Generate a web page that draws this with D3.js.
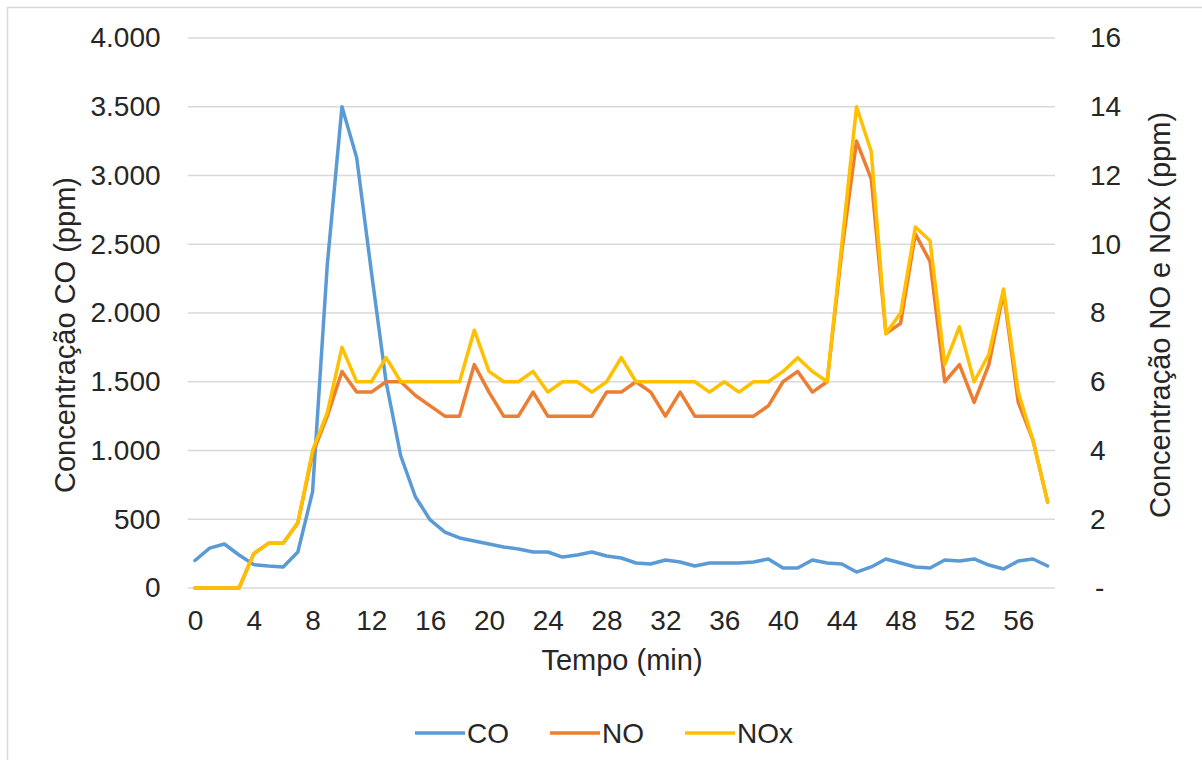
<!DOCTYPE html>
<html>
<head>
<meta charset="utf-8">
<script src="https://cdn.jsdelivr.net/npm/d3@7"></script>
<style>
  html, body { margin: 0; padding: 0; background: #fff; }
  svg { display: block; font-family: "Liberation Sans", Arial, sans-serif; }
</style>
</head>
<body>
<svg id="chart" width="1202" height="760"></svg>
<script>
// Time in minutes (one sample per minute)
const minutes = d3.range(0, 59);

// CO concentration (ppm), left axis
const coValues = [200, 290, 320, 240, 170, 160, 153, 262, 700, 2350,
  3500, 3130, 2300, 1500, 960, 662, 495, 407, 364, 342,
  320, 298, 284, 262, 262, 225, 240, 262, 233, 218,
  182, 175, 204, 189, 160, 182, 182, 182, 189, 211,
  145, 145, 204, 182, 175, 116, 153, 211, 182, 153,
  145, 204, 196, 211, 167, 138, 196, 211, 160];

// NO concentration (ppm), right axis
const noValues = [0, 0, 0, 0, 1.0, 1.3, 1.3, 1.9, 3.9, 5.0,
  6.3, 5.7, 5.7, 6.0, 6.0, 5.6, 5.3, 5.0, 5.0, 6.5,
  5.7, 5.0, 5.0, 5.7, 5.0, 5.0, 5.0, 5.0, 5.7, 5.7,
  6.0, 5.7, 5.0, 5.7, 5.0, 5.0, 5.0, 5.0, 5.0, 5.3,
  6.0, 6.3, 5.7, 6.0, 9.8, 13.0, 11.9, 7.4, 7.7, 10.3,
  9.5, 6.0, 6.5, 5.4, 6.5, 8.6, 5.4, 4.3, 2.5];

// NOx concentration (ppm), right axis
const noxValues = [0, 0, 0, 0, 1.0, 1.3, 1.3, 1.9, 4.0, 5.1,
  7.0, 6.0, 6.0, 6.7, 6.0, 6.0, 6.0, 6.0, 6.0, 7.5,
  6.3, 6.0, 6.0, 6.3, 5.7, 6.0, 6.0, 5.7, 6.0, 6.7,
  6.0, 6.0, 6.0, 6.0, 6.0, 5.7, 6.0, 5.7, 6.0, 6.0,
  6.3, 6.7, 6.3, 6.0, 10.0, 14.0, 12.7, 7.4, 8.0, 10.5,
  10.1, 6.5, 7.6, 6.0, 6.8, 8.7, 5.7, 4.3, 2.5];

const leftTicks = [0, 500, 1000, 1500, 2000, 2500, 3000, 3500, 4000];
const rightTicks = [0, 2, 4, 6, 8, 10, 12, 14, 16];
const xTickLabels = minutes.filter(m => m % 4 === 0);

const seriesNames = ["CO", "NO", "NOx"];
const seriesColors = ["#5b9bd5", "#ed7d31", "#ffc000"];

const svg = d3.select("#chart");
const plot = { left: 187.6, right: 1055, top: 38, bottom: 588 };

// Outer chart frame
svg.append("rect")
  .attr("x", 7.5).attr("y", 7.5)
  .attr("width", 1210).attr("height", 770)
  .attr("fill", "#fff").attr("stroke", "#d9d9d9").attr("stroke-width", 1.5);

const x = d3.scalePoint().domain(minutes).range([plot.left, plot.right]).padding(0.5);
const yLeft = d3.scaleLinear().domain([0, 4000]).range([plot.bottom, plot.top]);
const yRight = d3.scaleLinear().domain([0, 16]).range([plot.bottom, plot.top]);

const fmtThousands = d3.formatLocale({ decimal: ",", thousands: ".", grouping: [3], currency: ["", ""] }).format(",");

// Horizontal gridlines
svg.append("g")
  .selectAll("line")
  .data(leftTicks)
  .join("line")
  .attr("x1", plot.left).attr("x2", plot.right)
  .attr("y1", d => yLeft(d)).attr("y2", d => yLeft(d))
  .attr("stroke", "#d9d9d9").attr("stroke-width", 1.5);

const textColor = "#262626";
const tickFont = 28;

// Left axis
const leftAxis = svg.append("g")
  .attr("transform", `translate(${plot.left},0)`)
  .call(d3.axisLeft(yLeft).tickValues(leftTicks).tickSize(0).tickPadding(27).tickFormat(fmtThousands));
leftAxis.select(".domain").remove();
leftAxis.selectAll("text").attr("font-size", tickFont).attr("fill", textColor)
  .attr("font-family", "'Liberation Sans', Arial, sans-serif");

// Right axis
const rightAxis = svg.append("g")
  .attr("transform", `translate(${plot.right},0)`)
  .call(d3.axisRight(yRight).tickValues(rightTicks).tickSize(0).tickPadding(35)
    .tickFormat(d => d === 0 ? "-" : String(d)));
rightAxis.select(".domain").remove();
rightAxis.selectAll("text").attr("font-size", tickFont).attr("fill", textColor)
  .attr("font-family", "'Liberation Sans', Arial, sans-serif");
rightAxis.selectAll(".tick").filter(d => d === 0).select("text").attr("dx", 5);

// Bottom axis
const bottomAxis = svg.append("g")
  .attr("transform", `translate(0,${plot.bottom})`)
  .call(d3.axisBottom(x).tickValues(xTickLabels).tickSize(0).tickPadding(22));
bottomAxis.select(".domain").remove();
bottomAxis.selectAll("text").attr("font-size", tickFont).attr("fill", textColor)
  .attr("font-family", "'Liberation Sans', Arial, sans-serif");

// Axis titles
svg.append("text")
  .attr("transform", "translate(75,335) rotate(-90)")
  .attr("text-anchor", "middle")
  .attr("font-size", 29).attr("fill", textColor)
  .text("Concentração CO (ppm)");

svg.append("text")
  .attr("transform", "translate(1170,315) rotate(-90)")
  .attr("text-anchor", "middle")
  .attr("font-size", 29).attr("fill", textColor)
  .text("Concentração NO e NOx (ppm)");

svg.append("text")
  .attr("x", 622).attr("y", 670)
  .attr("text-anchor", "middle")
  .attr("font-size", 29).attr("fill", textColor)
  .text("Tempo (min)");

// Series lines
const lineLeft = d3.line().x((d, i) => x(minutes[i])).y(d => yLeft(d));
const lineRight = d3.line().x((d, i) => x(minutes[i])).y(d => yRight(d));

const seriesData = [
  { values: coValues, line: lineLeft },
  { values: noValues, line: lineRight },
  { values: noxValues, line: lineRight }
];

svg.append("g")
  .selectAll("path")
  .data(seriesData)
  .join("path")
  .attr("d", d => d.line(d.values))
  .attr("fill", "none")
  .attr("stroke", (d, i) => seriesColors[i])
  .attr("stroke-width", 3.5)
  .attr("stroke-linejoin", "round")
  .attr("stroke-linecap", "round");

// Legend
const legendX = [415, 550, 685];
const legend = svg.append("g").attr("transform", "translate(0,733)");
const items = legend.selectAll("g")
  .data(seriesNames)
  .join("g")
  .attr("transform", (d, i) => `translate(${legendX[i]},0)`);
items.append("line")
  .attr("x1", 0).attr("x2", 50)
  .attr("stroke", (d, i) => seriesColors[i])
  .attr("stroke-width", 3.5);
items.append("text")
  .attr("x", 52).attr("y", 10)
  .attr("font-size", 28).attr("fill", textColor)
  .text(d => d);
</script>
</body>
</html>
